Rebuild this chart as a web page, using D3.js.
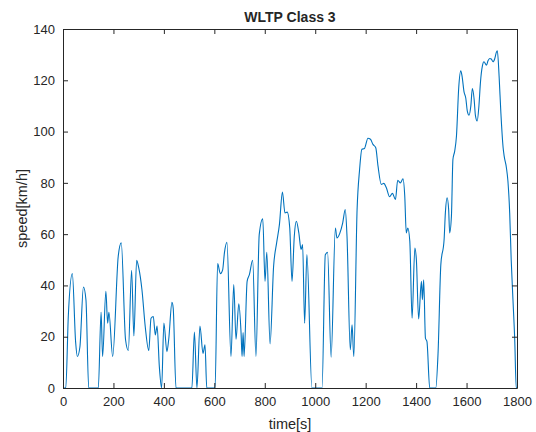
<!DOCTYPE html>
<html>
<head>
<meta charset="utf-8">
<script src="https://cdn.jsdelivr.net/npm/d3@7"></script>
<style>
  body { margin: 0; background: #fff; }
  text { font-family: "Liberation Sans", Arial, Helvetica, sans-serif; fill: #262626; }
</style>
</head>
<body>
<script>
// WLTP class 3 speed trace
var timeS = [0,11,21,37,50,57,67,81,91,102,140,151,157,170,177,182,197,219,231,248,259,272,281,292,300,313,326,340,349,358,366,373,382,391,400,412,419,432,437,448,511,521,531,543,555,563,570,
  603,613,624,633,640,650,666,677,686,697,706,710,714,718,730,739,752,765,778,792,801,808,821,835,847,858,870,880,889,899,908,917,925,935,944,950,958,967,987,
  1027,1040,1049,1063,1080,1086,1097,1109,1119,1126,1139,1146,1153,1166,1176,1185,1195,1209,1219,1229,1240,1249,1262,1272,1282,1295,1306,1318,1327,1338,1348,1355,1361,1367,1375,1384,1395,1401,1410,1421,1425,1430,1437,1443,1454,
  1478,1487,1498,1511,1516,1523,1529,1533,1540,1546,1553,1560,1569,1577,1582,1590,1597,1603,1610,1617,1623,1630,1635,1642,1649,1655,1663,1669,1679,1685,1692,1698,1705,1712,1718,1722,1729,1736,1745,1749,1758,1764,1771,1777,1784,1791,1797,1800];
var speedKmh = [0,0,27.9,44.6,18,12.3,16,39.4,34.4,0,0,29.5,12.3,37.7,25.3,29.5,12.3,51.4,56.6,18.8,14.6,45.9,20.3,49.8,47,38.3,24,14.6,27.2,27.9,20.7,24.2,8.3,0,25.3,14.2,18.8,33.4,31.1,0,0,21.8,0,24.2,13.5,16.8,0,
  0,48.5,44.6,46.1,52.7,56.8,12.3,40.3,19,32.8,21.4,12.3,21.6,12.3,41.6,44.2,49.8,12.3,59.8,66,41.6,52.9,17.2,47.5,56.6,63.7,76.4,68.3,68.6,62.4,41.6,59.2,65,60.5,54,55.9,25.3,52,0,
  0,52,52.9,12,62.4,58.5,60.2,64.4,69.6,59.2,14.9,24.6,12.3,69.6,85.3,93.1,93.4,97.4,97,95,93.7,86.5,79.4,79.8,78.1,74.6,75.9,73.5,81,80,81.6,74.8,60.5,62.4,57.2,27.2,54.6,50.1,26.9,41.6,34.4,42.2,19.4,18.1,0,
  0,13.6,48.1,57.9,68.3,74.2,69.6,60.5,67,89.2,92.4,98.3,117.2,123.7,121.7,115.5,113,108,106.4,110,116.8,112.6,106.4,104.1,110,119.1,125.7,127.2,125.9,127.6,128.5,128.3,127.2,128.5,130.9,131.5,121.7,107.4,93.7,90.5,85.9,80.7,68.3,50,34.4,18.8,0,0];

var xTicks = [0,200,400,600,800,1000,1200,1400,1600,1800];
var yTicks = [0,20,40,60,80,100,120,140];

var W = 536, H = 432;
var margin = { top: 29, right: 19, bottom: 44, left: 63 },
  width = W - margin.left - margin.right,
  height = H - margin.top - margin.bottom;

var x = d3.scaleLinear().domain([0, 1800]).range([0, width]);
var y = d3.scaleLinear().domain([0, 140]).range([height, 0]);

var svg = d3.select("body").append("svg")
  .attr("width", W)
  .attr("height", H);

var g = svg.append("g")
  .attr("transform", "translate(" + margin.left + "," + margin.top + ")");

var data = timeS.map(function (t, i) { return { t: t, v: speedKmh[i] }; });

// the trace
var line = d3.line()
  .x(function (d) { return x(d.t); })
  .y(function (d) { return y(d.v); })
  .curve(d3.curveMonotoneX);

g.append("path")
  .datum(data)
  .attr("fill", "none")
  .attr("stroke", "#0072BD")
  .attr("stroke-width", 1.1)
  .attr("d", line);

// axes, matlab style: inward ticks on all four sides
function styleAxis(sel) {
  sel.select(".domain").attr("stroke", "#262626");
  sel.selectAll(".tick line").attr("stroke", "#262626");
  sel.selectAll("text").attr("fill", "#262626").style("font-size", "13px")
    .style("font-family", "'Liberation Sans', Arial, sans-serif");
}

var fmt = d3.format("d");

g.append("g")
  .attr("transform", "translate(0," + height + ")")
  .call(d3.axisBottom(x).tickValues(xTicks).tickFormat(fmt).tickSizeInner(-5).tickSizeOuter(0).tickPadding(9))
  .call(styleAxis);

g.append("g")
  .call(d3.axisLeft(y).tickValues(yTicks).tickFormat(fmt).tickSizeInner(-5).tickSizeOuter(0).tickPadding(8))
  .call(styleAxis);

g.append("g")
  .call(d3.axisTop(x).tickValues(xTicks).tickSizeInner(-5).tickSizeOuter(0).tickFormat(""))
  .call(styleAxis);

g.append("g")
  .attr("transform", "translate(" + width + ",0)")
  .call(d3.axisRight(y).tickValues(yTicks).tickSizeInner(-5).tickSizeOuter(0).tickFormat(""))
  .call(styleAxis);

// labels
svg.append("text")
  .attr("x", margin.left + width / 2)
  .attr("y", 22)
  .attr("text-anchor", "middle")
  .style("font-size", "14px")
  .style("font-weight", "bold")
  .attr("fill", "#000")
  .text("WLTP Class 3");

svg.append("text")
  .attr("x", margin.left + width / 2)
  .attr("y", 429)
  .attr("text-anchor", "middle")
  .style("font-size", "14.5px")
  .text("time[s]");

svg.append("text")
  .attr("transform", "rotate(-90)")
  .attr("x", -(margin.top + height / 2))
  .attr("y", 27)
  .attr("text-anchor", "middle")
  .style("font-size", "14.5px")
  .text("speed[km/h]");
</script>
</body>
</html>
